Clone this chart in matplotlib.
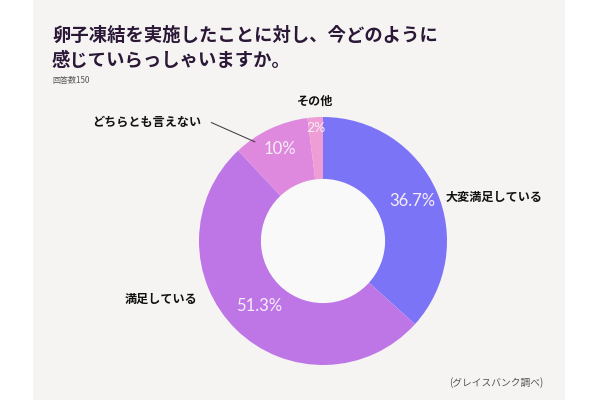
import matplotlib.pyplot as plt
from matplotlib.patches import Rectangle
import numpy as np

plt.rcParams['font.family'] = ['Noto Sans CJK JP', 'DejaVu Sans']

TITLE = ['卵子凍結を実施したことに対し、今どのように', '感じていらっしゃいますか。']
SUBTITLE = '回答数150'
SOURCE = '(グレイスバンク調べ)'
LABELS = ['大変満足している', '満足している', 'どちらとも言えない', 'その他']
VALUES = [36.7, 51.3, 10, 2]
PCT_TEXT = ['36.7%', '51.3%', '10%', '2%']
COLORS = ['#7B74F6', '#BE76E7', '#DE89DE', '#EE9DD5']

# layout (pie units, radius = 1)
PCT_RADIUS = [0.79, 0.74, 0.82, 0.91]
LABEL_POS = [(0.99, 0.355, 'left'), (-1.01, -0.47, 'right'),
             (-0.98, 0.96, 'right'), (-0.06, 1.13, 'center')]
LEADER = [None, None, ((-0.90, 0.955), (-0.55, 0.80)), None]


def main() -> None:
    fig = plt.figure(figsize=(6, 4), dpi=100)
    fig.patch.set_facecolor('white')
    fig.patches.append(Rectangle((33 / 600, 0), 532 / 600, 1, transform=fig.transFigure,
                                 facecolor='#F5F4F3', edgecolor='none', zorder=-5))

    fig.text(52 / 600, 1 - 35 / 400, TITLE[0], fontsize=13.2, fontweight='bold',
             color='#2B1736', va='center')
    fig.text(52 / 600, 1 - 60 / 400, TITLE[1], fontsize=13.2, fontweight='bold',
             color='#2B1736', va='center')
    fig.text(52 / 600, 1 - 80 / 400, SUBTITLE, fontsize=5.8, color='#555555', va='center')
    fig.text(543 / 600, 1 - 383 / 400, SOURCE, fontsize=7, color='#555555',
             va='center', ha='right')

    ax = fig.add_axes([(323 - 150) / 600, (159 - 150) / 400, 300 / 600, 300 / 400])
    lim = 150 / 124
    wedges, _ = ax.pie(VALUES, colors=COLORS, startangle=90, counterclock=False,
                       radius=1, wedgeprops=dict(width=0.505, edgecolor='none'))
    ax.add_patch(plt.Circle((0, 0), 0.495, color='#FAF9F9', zorder=3))
    ax.set_xlim(-lim, lim)
    ax.set_ylim(-lim, lim)
    ax.set_aspect('equal')
    ax.axis('off')

    for w, pct, r in zip(wedges, PCT_TEXT, PCT_RADIUS):
        ang = np.deg2rad((w.theta1 + w.theta2) / 2)
        ax.text(r * np.cos(ang), r * np.sin(ang), pct, fontsize=12 if pct != '2%' else 10,
                family=['Lato', 'DejaVu Sans'], fontweight='normal', color='#F7EEF8',
                ha='center', va='center', zorder=4)

    for lab, (x, y, ha), lead in zip(LABELS, LABEL_POS, LEADER):
        ax.text(x, y, lab, fontsize=8.7, fontweight='bold', color='#111111',
                ha=ha, va='center')
        if lead:
            ax.plot([lead[0][0], lead[1][0]], [lead[0][1], lead[1][1]],
                    color='#333333', lw=0.7, zorder=5)

    fig.savefig('out.png', dpi=100)


if __name__ == '__main__':
    main()
